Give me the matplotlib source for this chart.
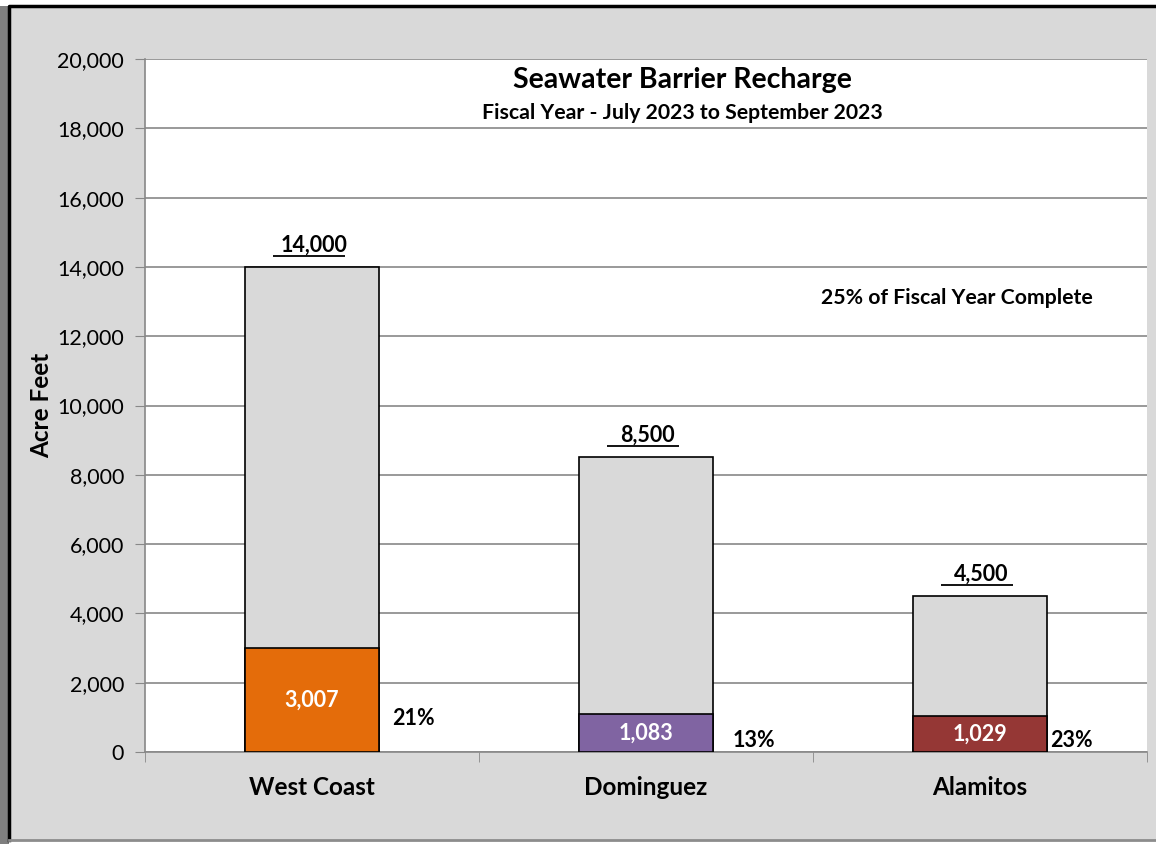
import numpy as np
import matplotlib.pyplot as plt
from matplotlib.patches import Rectangle
from matplotlib.lines import Line2D

# data
barriers = ['West Coast', 'Dominguez', 'Alamitos']
targets = [14000, 8500, 4500]
recharge = [3007, 1083, 1029]
pct_labels = ['21%', '13%', '23%']
pct_y = [980, 320, 320]
pct_dx = [0.24, 0.26, 0.21]
colors = ['#E46C0A', '#8064A2', '#953735']

plt.rcParams['font.family'] = ['Lato', 'DejaVu Sans']

fig = plt.figure(figsize=(11.56, 8.44), dpi=100, facecolor='white')

# outer frame with shadow (kept behind the axes)
fig.patches.append(Rectangle((0, 0), 9 / 1156, 1 - 6 / 844, transform=fig.transFigure,
                             facecolor='#7f7f7f', edgecolor='none', zorder=-3))
fig.patches.append(Rectangle((9 / 1156, 4 / 844), 1.0, 1 - 10 / 844, transform=fig.transFigure,
                             facecolor='#D9D9D9', edgecolor='none', zorder=-2))
fig.lines.append(Line2D([9 / 1156, 9 / 1156, 1], [4 / 844, 1 - 6 / 844, 1 - 6 / 844],
                        transform=fig.transFigure, color='black', linewidth=2.5, zorder=-1))
fig.lines.append(Line2D([9 / 1156, 1], [4 / 844, 4 / 844], transform=fig.transFigure,
                        color='#8c8c8c', linewidth=2, zorder=-1))

ax = fig.add_axes([145 / 1156, 92 / 844, 1002 / 1156, 693 / 844])
ax.set_facecolor('white')

x = np.arange(len(barriers))
w = 0.4
ax.bar(x, targets, width=w, color='#D9D9D9', edgecolor='black', linewidth=1.2, zorder=3)
ax.bar(x, recharge, width=w, color=colors, edgecolor='black', linewidth=1.2, zorder=4)

for i in range(len(barriers)):
    ax.text(x[i] + 0.005, targets[i] + 640, f'{targets[i]:,}', ha='center', va='center',
            fontsize=15.5, fontweight='bold', zorder=5)
    ax.plot([x[i] - 0.117, x[i] + 0.10], [targets[i] + 320] * 2, color='black',
            linewidth=1.3, zorder=5, solid_capstyle='butt')
    ax.text(x[i], recharge[i] / 2, f'{recharge[i]:,}', ha='center', va='center',
            fontsize=15.5, fontweight='bold', color='white', zorder=5)
    ax.text(x[i] + pct_dx[i], pct_y[i], pct_labels[i], ha='left', va='center',
            fontsize=15.5, fontweight='bold', zorder=5)

ax.text(1.93, 13100, '25% of Fiscal Year Complete', ha='center', va='center',
        fontsize=15.3, fontweight='bold')
ax.text(0.536, 0.9697, 'Seawater Barrier Recharge', transform=ax.transAxes, ha='center',
        va='center', fontsize=20.5, fontweight='bold')
ax.text(0.536, 0.922, 'Fiscal Year - July 2023 to September 2023', transform=ax.transAxes,
        ha='center', va='center', fontsize=15.3, fontweight='bold')

ax.set_xlim(-0.5, 2.5)
ax.set_ylim(0, 20000)
ax.set_yticks(np.arange(0, 20001, 2000))
ax.set_yticklabels([f'{v:,}' for v in range(0, 20001, 2000)], fontsize=15.5)
ax.set_xticks(x)
ax.set_xticklabels(barriers, fontsize=17.5, fontweight='bold')
ax.set_xticks([-0.5, 0.5, 1.5, 2.5], minor=True)
ax.tick_params(axis='x', which='major', length=0, pad=17)
ax.tick_params(axis='x', which='minor', length=7, color='#888888', direction='out')
ax.tick_params(axis='y', length=7, color='#888888', direction='out', pad=8)
ax.set_ylabel('Acre Feet', fontsize=17.5, fontweight='bold', labelpad=3)

ax.grid(axis='y', color='#888888', linewidth=1.2, zorder=0)
ax.set_axisbelow(True)
for s in ['top', 'right']:
    ax.spines[s].set_visible(False)
ax.spines['left'].set_color('#888888')
ax.spines['bottom'].set_color('#888888')
ax.spines['left'].set_linewidth(1.2)
ax.spines['bottom'].set_linewidth(1.2)

fig.savefig('out.png', dpi=100, facecolor=fig.get_facecolor())
